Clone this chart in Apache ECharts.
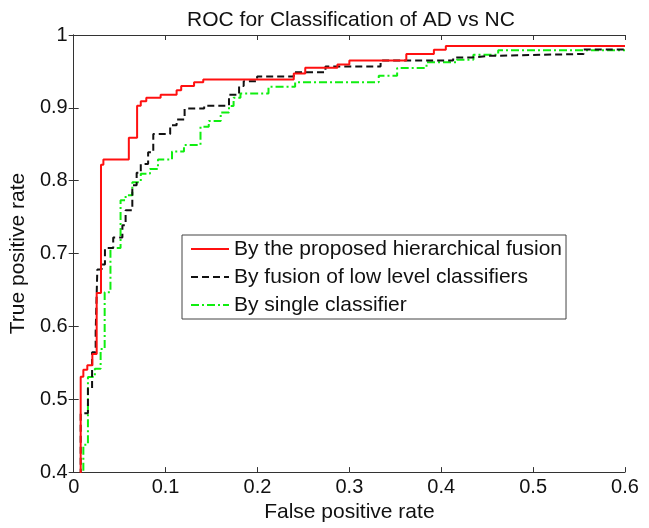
<!DOCTYPE html>
<html>
<head>
<meta charset="utf-8">
<script src="https://cdn.jsdelivr.net/npm/echarts@6/dist/echarts.min.js"></script>
<style>html,body{margin:0;padding:0;background:#fff}#c{width:649px;height:528px}</style>
</head>
<body>
<div id="c"></div>
<script>
var titleText = 'ROC for Classification of AD vs NC';
var xName = 'False positive rate';
var yName = 'True positive rate';
var seriesNames = ['By the proposed hierarchical fusion', 'By fusion of low level classifiers', 'By single classifier'];
var xTicks = [0, 0.1, 0.2, 0.3, 0.4, 0.5, 0.6];
var yTicks = [0.4, 0.5, 0.6, 0.7, 0.8, 0.9, 1];

var redFPR = [0.0076,0.0076,0.0105,0.0148,0.0203,0.025,0.0297,0.0323,0.060,0.069,0.073,0.079,0.0946,0.112,0.117,0.131,0.141,0.2395,0.252,0.287,0.300,0.362,0.392,0.405,0.6];
var redTPR = [0.38,0.531,0.5405,0.5465,0.562,0.646,0.822,0.829,0.859,0.903,0.909,0.914,0.918,0.924,0.930,0.935,0.939,0.947,0.955,0.9596,0.965,0.974,0.9796,0.985,0.985];

var blackFPR = [0.0076,0.0076,0.0155,0.020,0.0239,0.0257,0.0304,0.034,0.043,0.053,0.0565,0.0638,0.0685,0.073,0.081,0.0866,0.105,0.112,0.1207,0.142,0.169,0.180,0.185,0.1996,0.2395,0.274,0.334,0.413,0.433,0.453,0.555,0.6];
var blackTPR = [0.38,0.4807,0.515,0.5646,0.592,0.678,0.685,0.7075,0.722,0.739,0.7596,0.7936,0.811,0.823,0.839,0.864,0.876,0.884,0.899,0.903,0.918,0.930,0.9365,0.943,0.9487,0.9566,0.965,0.969,0.9714,0.974,0.98,0.98];

var greenFPR = [0.0105,0.0105,0.0155,0.023,0.0293,0.0337,0.040,0.051,0.0565,0.0638,0.073,0.083,0.0917,0.107,0.120,0.138,0.147,0.160,0.169,0.174,0.1815,0.212,0.241,0.332,0.352,0.384,0.417,0.435,0.462,0.6];
var greenTPR = [0.38,0.4377,0.5306,0.542,0.569,0.647,0.7075,0.773,0.780,0.798,0.8095,0.816,0.829,0.840,0.849,0.874,0.882,0.8935,0.9025,0.914,0.9197,0.9288,0.935,0.944,0.9547,0.9625,0.966,0.9728,0.979,0.979];

function pairs(xs, ys){ return xs.map(function(x,i){ return [x, ys[i]]; }); }

var FONT = 'Liberation Sans, Arial, sans-serif';
var axisColor = '#333';
var chart = echarts.init(document.getElementById('c'), null, {renderer:'canvas'});
var xMin = xTicks[0], xMax = xTicks[xTicks.length-1], xInt = 0.1;
var yMin = yTicks[0], yMax = yTicks[yTicks.length-1], yInt = 0.1;

chart.setOption({
  animation: false,
  backgroundColor: '#fff',
  title: { text: titleText, left: 346, textAlign: 'center', top: 5,
    textStyle: { fontFamily: FONT, fontSize: 21, fontWeight: 'normal', color: '#111' } },
  grid: { left: 73, right: 24, top: 35, bottom: 52, containLabel: false },
  legend: {
    orient: 'vertical', left: 182, top: 235,
    padding: [3, 4, 3, 8], itemGap: 6, itemWidth: 38, itemHeight: 14,
    borderColor: '#444', borderWidth: 1, backgroundColor: '#fff',
    itemStyle: { opacity: 0 },
    textStyle: { fontFamily: FONT, fontSize: 21, lineHeight: 22, color: '#111' },
    data: seriesNames
  },
  xAxis: [{
    type: 'value', min: xMin, max: xMax, interval: xInt, position: 'bottom',
    name: xName, nameLocation: 'middle', nameGap: 26,
    nameTextStyle: { fontFamily: FONT, fontSize: 21, color: '#111' },
    axisLine: { lineStyle: { color: axisColor, width: 1 } },
    axisTick: { inside: true, length: 5, lineStyle: { color: axisColor } },
    axisLabel: { fontFamily: FONT, fontSize: 20, color: '#111', margin: 5 },
    splitLine: { show: false }
  }, {
    type: 'value', min: xMin, max: xMax, interval: xInt, position: 'top',
    axisLine: { lineStyle: { color: axisColor, width: 1 } },
    axisTick: { inside: true, length: 5, lineStyle: { color: axisColor } },
    axisLabel: { show: false }, splitLine: { show: false }
  }],
  yAxis: [{
    type: 'value', min: yMin, max: yMax, interval: yInt, position: 'left',
    name: yName, nameLocation: 'middle', nameGap: 36,
    nameTextStyle: { fontFamily: FONT, fontSize: 21, color: '#111' },
    axisLine: { show: true, lineStyle: { color: axisColor, width: 1 } },
    axisTick: { show: true, inside: true, length: 5, lineStyle: { color: axisColor } },
    axisLabel: { fontFamily: FONT, fontSize: 20, color: '#111', margin: 6 },
    splitLine: { show: false }
  }, {
    type: 'value', min: yMin, max: yMax, interval: yInt, position: 'right',
    axisLine: { show: true, lineStyle: { color: axisColor, width: 1 } },
    axisTick: { show: true, inside: true, length: 5, lineStyle: { color: axisColor } },
    axisLabel: { show: false }, splitLine: { show: false }
  }],
  series: [{
    name: seriesNames[0], type: 'line', step: 'end', symbol: 'none', clip: true,
    xAxisIndex: 0, yAxisIndex: 0, z: 5,
    lineStyle: { color: '#ff1010', width: 2, type: 'solid' }, itemStyle: { color: '#ff1010' },
    data: pairs(redFPR, redTPR)
  }, {
    name: seriesNames[1], type: 'line', step: 'end', symbol: 'none', clip: true,
    xAxisIndex: 0, yAxisIndex: 0, z: 4,
    lineStyle: { color: '#111', width: 2, type: [7, 4] }, itemStyle: { color: '#111' },
    data: pairs(blackFPR, blackTPR)
  }, {
    name: seriesNames[2], type: 'line', step: 'end', symbol: 'none', clip: true,
    xAxisIndex: 0, yAxisIndex: 0, z: 3,
    lineStyle: { color: '#10ee10', width: 2, type: [8, 3, 2, 3] }, itemStyle: { color: '#10ee10' },
    data: pairs(greenFPR, greenTPR)
  }]
});
</script>
</body>
</html>
